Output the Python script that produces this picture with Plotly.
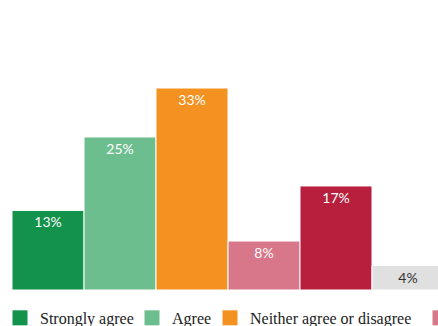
import plotly.graph_objects as go

categories = ["Strongly agree", "Agree", "Neither agree or disagree", "Disagree", "Strongly disagree", "Don't know"]
values = [13, 25, 33, 8, 17, 4]
labels = ["13%", "25%", "33%", "8%", "17%", "4%"]
colors = ["#12924a", "#6dbe8f", "#f39121", "#d87789", "#b81f3d", "#e0e0e0"]
text_colors = ["white", "white", "white", "white", "white", "#333333"]

W = 1100
H = 340
ML = 12
# left edge (px) of each legend entry box
legend_left_px = [0, 132, 210, 420, 518, 674]

fig = go.Figure()
legend_layout = {}
for i, (c, v, lab, col, tc) in enumerate(zip(categories, values, labels, colors, text_colors)):
    lname = "legend" if i == 0 else f"legend{i + 1}"
    fig.add_trace(go.Bar(
        x=[i], y=[v], name=c, width=1, showlegend=False,
        marker=dict(color=col, line=dict(color="white", width=1)),
        text=[lab], textposition="inside", insidetextanchor="end",
        textangle=0,
        textfont=dict(color=tc, size=14, family="Lato"),
        hoverinfo="skip",
    ))
    fig.add_trace(go.Scatter(
        x=[None], y=[None], name=c, mode="markers",
        marker=dict(symbol="square", size=15, color=col),
        showlegend=True, hoverinfo="skip", legend=lname,
    ))
    legend_layout[lname] = dict(
        orientation="h", x=(legend_left_px[i] - ML) / (W - ML), y=-0.039,
        xanchor="left", yanchor="top",
        font=dict(family="Liberation Serif", size=16, color="#222222"),
        itemsizing="trace", borderwidth=0, bgcolor="rgba(0,0,0,0)",
    )

fig.update_layout(
    width=W, height=H,
    margin=dict(l=ML, r=0, t=10, b=H - 290),
    barmode="overlay",
    plot_bgcolor="white", paper_bgcolor="white",
    showlegend=True,
    xaxis=dict(range=[-0.5, 5.5], domain=[0, 432 / (W - ML)], showticklabels=False,
               showgrid=False, zeroline=False, showline=False, fixedrange=True),
    yaxis=dict(range=[0, 45.75], showticklabels=False, showgrid=False,
               zeroline=False, showline=False),
    uniformtext=dict(mode=False),
    **legend_layout,
)
fig.write_html("out.html", post_script="document.body.style.overflow='hidden';document.body.style.margin='0';")
